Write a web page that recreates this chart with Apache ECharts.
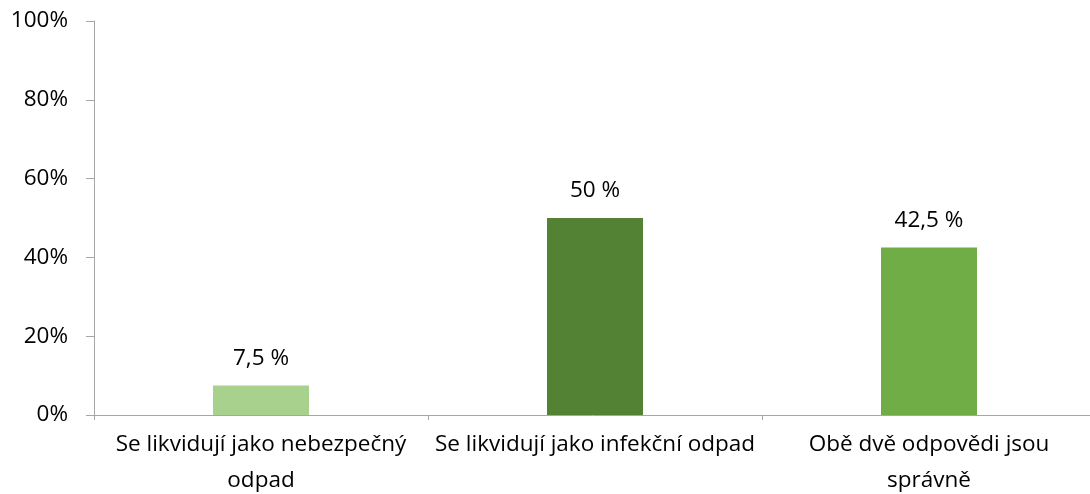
<!DOCTYPE html>
<html>
<head>
<meta charset="utf-8">
<script src="https://cdn.jsdelivr.net/npm/echarts@6/dist/echarts.min.js"></script>
<style>
  html, body { margin: 0; padding: 0; background: #fff; }
  #chart { width: 1090px; height: 494px; }
</style>
</head>
<body>
<div id="chart"></div>
<script>
// kategorie a hodnoty (v procentech)
var categories = ['Se likvidují jako nebezpečný\nodpad', 'Se likvidují jako infekční odpad', 'Obě dvě odpovědi jsou\nsprávně'];
var values = [7.5, 50, 42.5];
var barColors = ['#A9D18E', '#548235', '#70AD47'];

var font = '"Open Sans", sans-serif';
var chart = echarts.init(document.getElementById('chart'), null, { renderer: 'canvas' });

var option = {
    animation: false,
    grid: {
        left: 94,
        right: -6,
        top: 21,
        bottom: 79,
        outerBoundsMode: 'none',
        containLabel: false
    },
    xAxis: {
        type: 'category',
        data: categories,
        axisLine: { lineStyle: { color: '#a6a6a6', width: 1 } },
        axisTick: { show: true, length: 5, lineStyle: { color: '#a6a6a6' } },
        axisLabel: {
            interval: 0,
            margin: 12,
            lineHeight: 36,
            fontSize: 22.5,
            fontFamily: font,
            color: '#000'
        }
    },
    yAxis: {
        type: 'value',
        min: 0,
        max: 100,
        interval: 20,
        splitLine: { show: false },
        axisLine: { show: true, lineStyle: { color: '#a6a6a6', width: 1 } },
        axisTick: { show: true, length: 8, lineStyle: { color: '#a6a6a6' } },
        axisLabel: {
            margin: 26,
            fontSize: 22.5,
            fontFamily: font,
            color: '#000',
            formatter: function (v) { return v + '%'; }
        }
    },
    series: [{
        type: 'bar',
        barWidth: 96,
        data: values.map(function (v, i) {
            return { value: v, itemStyle: { color: barColors[i] } };
        }),
        label: {
            show: true,
            position: 'top',
            distance: 14,
            lineHeight: 26,
            fontSize: 22.5,
            fontFamily: font,
            color: '#000',
            formatter: function (p) {
                return String(p.value).replace('.', ',') + ' %';
            }
        }
    }]
};

chart.setOption(option);
</script>
</body>
</html>
